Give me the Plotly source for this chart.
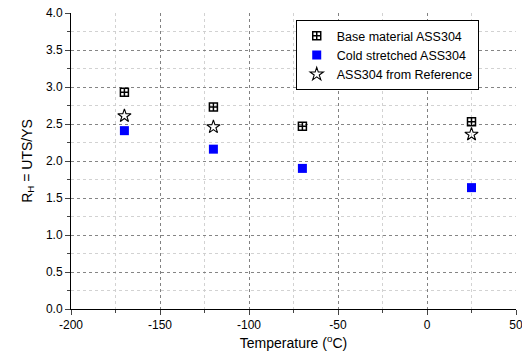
import plotly.graph_objects as go

base_T = [-170, -120, -70, 25]
base_R = [2.93, 2.73, 2.47, 2.53]
cold_T = [-170, -120, -70, 25]
cold_R = [2.41, 2.16, 1.90, 1.64]
ref_T = [-170, -120, 25]
ref_R = [2.61, 2.46, 2.36]

x_tickvals = [-200, -150, -100, -50, 0, 50]
x_ticktext = ["-200", "-150", "-100", "-50", "0", "50"]

fnt = dict(family="Liberation Sans, Arial, sans-serif", size=12, color="black")

fig = go.Figure()
fig.add_trace(go.Scatter(x=base_T, y=base_R, mode="markers", name="Base material ASS304",
                         marker=dict(symbol="square-cross-open", size=8, color="black",
                                     line=dict(width=1.5, color="black"))))
fig.add_trace(go.Scatter(x=cold_T, y=cold_R, mode="markers", name="Cold stretched ASS304",
                         marker=dict(symbol="square", size=9, color="#0000ff",
                                     line=dict(width=0))))
fig.add_trace(go.Scatter(x=ref_T, y=ref_R, mode="markers", name="ASS304 from Reference",
                         marker=dict(symbol="star-open", size=10, color="black",
                                     line=dict(width=1.1, color="black"))))

grid_major = "rgba(120,120,120,0.9)"
grid_minor = "rgba(205,205,205,0.9)"

fig.update_layout(
    width=522, height=360,
    margin=dict(l=71, r=6, t=13, b=51),
    paper_bgcolor="white", plot_bgcolor="white",
    font=fnt,
    showlegend=True,
    legend=dict(x=0.505, y=0.976, xanchor="left", yanchor="top",
                bordercolor="black", borderwidth=1, bgcolor="white",
                font=dict(size=12.5), tracegroupgap=0, itemwidth=30,
                entrywidth=158),
    xaxis=dict(range=[-200, 50], tickvals=x_tickvals, ticktext=x_ticktext,
               ticks="outside", ticklen=5, ticklabeloverflow="allow", automargin=False,
               showline=True, linecolor="black", linewidth=1, zeroline=False,
               showgrid=True, gridcolor=grid_major, griddash="dot", gridwidth=1,
               minor=dict(dtick=25, tick0=-200, ticks="outside", ticklen=3, showgrid=True,
                          gridcolor=grid_minor, griddash="dot"),
               title=dict(text="Temperature (<sup>o</sup>C)", standoff=6),
               tickfont=fnt),
    yaxis=dict(range=[0, 4], dtick=0.5, tick0=0, ticks="outside", ticklen=5,
               tickformat=".1f", automargin=False,
               showline=True, linecolor="black", linewidth=1, zeroline=False,
               showgrid=True, gridcolor=grid_major, griddash="dot", gridwidth=1,
               minor=dict(dtick=0.25, ticks="outside", ticklen=3, showgrid=True,
                          gridcolor=grid_minor, griddash="dot"),
               title=dict(text="R<sub>H</sub> = UTS/YS", standoff=10),
               tickfont=fnt),
    xaxis2=dict(range=[-200, 50], dtick=50, tick0=-200, overlaying="x", side="top",
                ticks="inside", ticklen=5, showticklabels=False, showgrid=False,
                showline=True, linecolor="black", linewidth=1, zeroline=False,
                minor=dict(dtick=25, ticks="inside", ticklen=3, showgrid=False)),
    yaxis2=dict(range=[0, 4], dtick=0.5, tick0=0, overlaying="y", side="right",
                ticks="inside", ticklen=5, showticklabels=False, showgrid=False,
                showline=True, linecolor="black", linewidth=1, zeroline=False,
                minor=dict(dtick=0.25, ticks="inside", ticklen=3, showgrid=False)),
)

fig.write_html("out.html")
